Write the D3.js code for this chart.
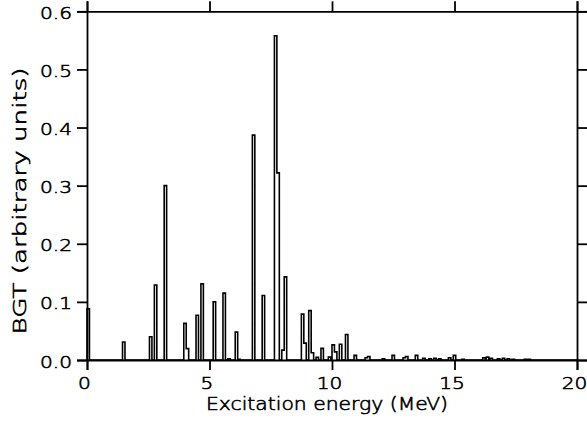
<!DOCTYPE html>
<html>
<head>
<meta charset="utf-8">
<script src="https://cdn.jsdelivr.net/npm/d3@7"></script>
<style>
  html, body { margin: 0; padding: 0; background: #fff; }
  svg { display: block; }
  text { font-family: "DejaVu Sans", sans-serif; font-weight: 200; fill: #000; stroke: #000; stroke-width: 0.6px; }
</style>
</head>
<body>
<svg id="chart" width="587" height="422"></svg>
<script>
// ---- data (bin left edge in MeV, BGT value), bin width 0.1 MeV ----
const binWidth = 0.1;
const energies = [0.0, 1.45, 2.55, 2.75, 3.15, 3.95, 4.05, 4.45, 4.65, 5.15, 5.55, 5.75, 6.05, 6.15, 6.75, 7.15, 7.65, 7.75, 7.95, 8.05, 8.75, 8.85, 9.05, 9.15, 9.35, 9.55, 9.85, 10.0, 10.1, 10.3, 10.55, 10.9, 11.35, 11.45, 12.05, 12.45, 12.9, 13.0, 13.4, 13.7, 13.95, 14.15, 14.35, 14.75, 14.95, 15.3, 16.15, 16.3, 16.45, 16.75, 16.95, 17.15, 17.35, 17.85, 18.0];
const bgt = [0.088, 0.031, 0.040, 0.129, 0.300, 0.063, 0.0195, 0.077, 0.131, 0.100, 0.115, 0.002, 0.048, 0.001, 0.387, 0.111, 0.558, 0.322, 0.017, 0.143, 0.079, 0.029, 0.085, 0.0126, 0.0046, 0.020, 0.005, 0.026, 0.014, 0.027, 0.044, 0.008, 0.004, 0.006, 0.002, 0.008, 0.004, 0.006, 0.008, 0.003, 0.002, 0.003, 0.002, 0.004, 0.008, 0.001, 0.004, 0.005, 0.003, 0.002, 0.003, 0.002, 0.001, 0.001, 0.001];
const xTicks = [0, 5, 10, 15, 20];
const xTickLabels = ["0", "5", "10", "15", "20"];
const yTicks = [0, 0.1, 0.2, 0.3, 0.4, 0.5, 0.6];
const yTickLabels = ["0.0", "0.1", "0.2", "0.3", "0.4", "0.5", "0.6"];
const xTitle = "Excitation energy (MeV)";
const yTitle = "BGT (arbitrary units)";

// ---- layout ----
const mLeft = 87, mRight = 577, mTop = 11.3, mBottom = 360;
const x = d3.scaleLinear().domain([0, 20]).range([mLeft, mRight]);
const y = d3.scaleLinear().domain([0, 0.6]).range([mBottom, mTop]);
const svg = d3.select("#chart");

// ---- histogram outline path ----
const bins = energies.map((e, i) => ({ e, v: bgt[i] })).sort((a, b) => a.e - b.e);
const pts = [[0, 0]];
let prevEnd = null;
bins.forEach((b) => {
  const adjacent = prevEnd !== null && Math.abs(b.e - prevEnd) < 1e-6;
  if (!adjacent) {
    if (prevEnd !== null) pts.push([prevEnd, 0]);
    pts.push([b.e, 0]);
  }
  pts.push([b.e, b.v]);
  pts.push([b.e + binWidth, b.v]);
  prevEnd = b.e + binWidth;
});
pts.push([prevEnd, 0]);
pts.push([20, 0]);

const line = d3.line().x(d => x(d[0])).y(d => y(d[1]));
svg.append("path")
  .attr("d", line(pts))
  .attr("fill", "none")
  .attr("stroke", "#000")
  .attr("stroke-width", 1.6)
  .attr("stroke-linejoin", "miter");

// ---- axes (all four sides, outward ticks) ----
const tickLen = 10;
const axisG = svg.append("g");
const axB = d3.axisBottom(x).tickValues(xTicks).tickSize(tickLen).tickFormat("");
const axT = d3.axisTop(x).tickValues(xTicks).tickSize(tickLen).tickFormat("");
const axL = d3.axisLeft(y).tickValues(yTicks).tickSize(tickLen).tickFormat("");
const axR = d3.axisRight(y).tickValues(yTicks).tickSize(tickLen).tickFormat("");
[[axB, `translate(0,${mBottom})`], [axT, `translate(0,${mTop})`], [axL, `translate(${mLeft},0)`], [axR, `translate(${mRight},0)`]].forEach(([ax, tr]) => {
  const g = axisG.append("g").attr("transform", tr).call(ax);
  g.select(".domain").attr("stroke", "#000").attr("stroke-width", 1.8);
  g.selectAll(".tick line").attr("stroke", "#000").attr("stroke-width", 1.8);
});

// ---- tick labels ----
const stretch = 1.22;
const xl = svg.append("g").selectAll("text").data(xTicks).join("text")
  .attr("x", d => x(d) - 2.5)
  .attr("y", 388.5)
  .attr("text-anchor", "middle")
  .attr("font-size", 16.5)
  .text((d, i) => xTickLabels[i]);
xl.each(function() { const w = this.getComputedTextLength(); d3.select(this).attr("textLength", w * stretch).attr("lengthAdjust", "spacingAndGlyphs"); });

const yl = svg.append("g").selectAll("text").data(yTicks).join("text")
  .attr("x", 72)
  .attr("y", d => y(d) + 7.5)
  .attr("text-anchor", "end")
  .attr("font-size", 16.5)
  .text((d, i) => yTickLabels[i]);
yl.each(function() { const w = this.getComputedTextLength(); d3.select(this).attr("textLength", w * stretch).attr("lengthAdjust", "spacingAndGlyphs"); });

// ---- axis titles ----
svg.append("text")
  .attr("x", 327).attr("y", 410)
  .attr("text-anchor", "middle")
  .attr("font-size", 18)
  .attr("textLength", 242).attr("lengthAdjust", "spacingAndGlyphs")
  .text(xTitle);

svg.append("text")
  .attr("transform", "translate(25.5,201) rotate(-90)")
  .attr("text-anchor", "middle")
  .attr("font-size", 17)
  .attr("textLength", 267).attr("lengthAdjust", "spacingAndGlyphs")
  .text(yTitle);
</script>
</body>
</html>
